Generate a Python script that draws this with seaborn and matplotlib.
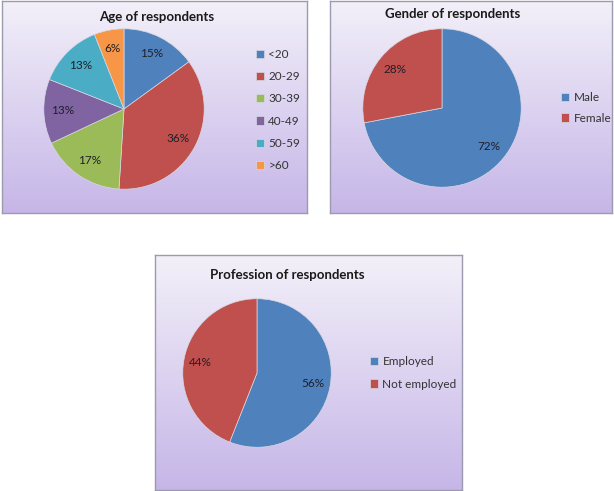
import matplotlib
matplotlib.use("Agg")

import matplotlib.pyplot as plt
import numpy as np
import seaborn as sns

W, H = 614, 491

age_labels = ["<20", "20-29", "30-39", "40-49", "50-59", ">60"]
age_values = [15, 36, 17, 13, 13, 6]

gender_labels = ["Male", "Female"]
gender_values = [72, 28]

prof_labels = ["Employed", "Not employed"]
prof_values = [56, 44]

excel_colors = ["#4f81bd", "#c0504d", "#9bbb59", "#8064a2", "#4bacc6", "#f79646"]


def px_axes(fig, x, y, w, h, zorder=0):
    # rectangle en pixels (origine en haut a gauche)
    return fig.add_axes([x / W, 1 - (y + h) / H, w / W, h / H], zorder=zorder)


def draw_panel(fig, rect, title, title_xy, labels, values, center, radius, legend_xy, spacing):
    x, y, w, h = rect
    bg = px_axes(fig, x, y, w, h, zorder=0)
    grad = np.linspace(0, 1, 256).reshape(-1, 1)
    cmap = matplotlib.colors.LinearSegmentedColormap.from_list("bg", ["#f3f0f9", "#c6b6e8"])
    bg.imshow(grad, aspect="auto", cmap=cmap, extent=[0, 1, 0, 1], origin="upper")
    bg.set_xlim(0, 1)
    bg.set_ylim(0, 1)
    bg.set_xticks([])
    bg.set_yticks([])
    for sp in bg.spines.values():
        sp.set_color("#9c9aae")
        sp.set_linewidth(1.0)
        sp.set_visible(True)

    fig.text(title_xy[0] / W, 1 - title_xy[1] / H, title, ha="center", va="center",
             fontsize=9.5, fontweight="bold", color="#1a1a1a", family="Lato")

    cx, cy = center
    ax = px_axes(fig, cx - radius, cy - radius, 2 * radius, 2 * radius, zorder=2)
    colors = sns.color_palette(excel_colors[:len(values)])
    wedges, _, autotexts = ax.pie(
        values,
        colors=colors,
        startangle=90,
        counterclock=False,
        autopct="%1.0f%%",
        pctdistance=0.77,
        wedgeprops=dict(edgecolor="#d8d8e0", linewidth=0.5),
        textprops=dict(fontsize=8.5, color="#1f1f2a", family="Lato"),
    )
    ax.set_xlim(-1.01, 1.01)
    ax.set_ylim(-1.01, 1.01)
    ax.axis("off")

    fig.legend(
        wedges,
        labels,
        loc="center left",
        bbox_to_anchor=(legend_xy[0] / W, 1 - legend_xy[1] / H),
        frameon=False,
        handlelength=0.7,
        handleheight=0.7,
        handletextpad=0.35,
        labelspacing=spacing,
        borderpad=0,
        borderaxespad=0,
        prop=dict(family="Lato", size=8.5),
        labelcolor="#333333",
    )


def main() -> None:
    sns.set_style("white")
    fig = plt.figure(figsize=(W / 100, H / 100), dpi=100)
    fig.patch.set_facecolor("white")

    draw_panel(fig, (2, 1, 305, 212), "Age of respondents", (157, 17),
               age_labels, age_values, (124, 109), 81, (256, 110), 0.95)
    draw_panel(fig, (330, 1, 282, 212), "Gender of respondents", (453, 14),
               gender_labels, gender_values, (442, 108), 80, (561, 108), 0.8)
    draw_panel(fig, (155, 255, 307, 235), "Profession of respondents", (287, 275),
               prof_labels, prof_values, (257, 373), 75, (370, 373), 0.95)

    fig.savefig("out.png", dpi=100)
    plt.close(fig)


if __name__ == "__main__":
    main()
